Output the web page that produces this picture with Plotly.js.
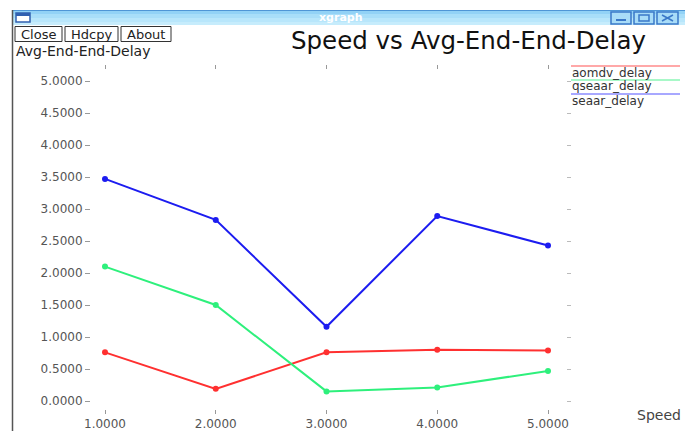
<!DOCTYPE html>
<html>
<head>
<meta charset="utf-8">
<script src="https://cdn.plot.ly/plotly-3.0.1.min.js"></script>
<style>html,body{margin:0;padding:0;background:#fff;}#chart{width:692px;height:431px;}</style>
</head>
<body>
<div id="chart"></div>
<script>
// ---- data ----
var speed = [1, 2, 3, 4, 5];
var aomdvDelay = [0.76, 0.19, 0.76, 0.80, 0.79];
var qseaarDelay = [2.10, 1.50, 0.15, 0.21, 0.47];
var seaarDelay = [3.47, 2.83, 1.16, 2.89, 2.43];
var seriesNames = ['aomdv_delay', 'qseaar_delay', 'seaar_delay'];
var xTickVals = [1, 2, 3, 4, 5];
var yTickVals = [0, 0.5, 1, 1.5, 2, 2.5, 3, 3.5, 4, 4.5, 5];
var buttonLabels = ['Close', 'Hdcpy', 'About'];

// ---- layout geometry (pixels) ----
var W = 692, H = 431;
var L = 91, R = 126, T = 70, B = 22;
var PW = W - L - R, PH = H - T - B;
function px(x) { return (x - L) / PW; }
function py(y) { return (H - B - y) / PH; }

var seriesColors = ['#ff3030', '#2ef07c', '#1c1cf0'];
var legendColors = ['#ffa8a8', '#a8f8c8', '#a8a8ff'];
var FONT = 'DejaVu Sans, Verdana, sans-serif';

var allY = [aomdvDelay, qseaarDelay, seaarDelay];
var traces = allY.map(function (ys, i) {
  return {
    x: speed, y: ys, name: seriesNames[i], type: 'scatter', mode: 'lines+markers',
    line: { color: seriesColors[i], width: 2 },
    marker: { color: seriesColors[i], size: 6 },
    showlegend: false, cliponaxis: false
  };
});
// invisible helper trace so the mirrored tick axes are drawn
traces.push({ x: speed, y: seaarDelay, xaxis: 'x2', yaxis: 'y2', mode: 'markers',
  marker: { opacity: 0 }, showlegend: false, hoverinfo: 'skip' });

var xr = [1 - (105 - L) / 110.75, 5 + (L + PW - 548) / 110.75];
var yr = [-(H - B - 401) / 64, 5 + (81 - T) / 64];

var tickFont = { family: FONT, size: 12, color: '#555555' };
var shapes = [];
var annotations = [];

// window title bar (banded gradient)
var bands = [['#4f96d6', 10, 11], ['#92d2f6', 11, 14], ['#a8def9', 14, 18], ['#b8e6fb', 18, 22], ['#c6ecfc', 22, 25]];
bands.forEach(function (b) {
  shapes.push({ type: 'rect', xref: 'paper', yref: 'paper', x0: px(12), x1: px(685), y0: py(b[1]), y1: py(b[2]),
    fillcolor: b[0], line: { width: 0 }, layer: 'below' });
});
// window left border
shapes.push({ type: 'line', xref: 'paper', yref: 'paper', x0: px(12.5), x1: px(12.5), y0: py(10), y1: py(431),
  line: { color: '#555555', width: 1.5 } });
// window icon at left of title bar
shapes.push({ type: 'rect', xref: 'paper', yref: 'paper', x0: px(16), x1: px(30), y0: py(13), y1: py(22),
  fillcolor: '#ffffff', line: { color: '#3060b0', width: 1.5 } });
shapes.push({ type: 'rect', xref: 'paper', yref: 'paper', x0: px(16), x1: px(30), y0: py(13), y1: py(16),
  fillcolor: '#3060b0', line: { width: 0 } });
// title bar buttons
[[611, 631], [634, 654], [657, 678]].forEach(function (b) {
  shapes.push({ type: 'rect', xref: 'paper', yref: 'paper', x0: px(b[0]), x1: px(b[1]), y0: py(12), y1: py(24),
    fillcolor: '#a8dcf8', line: { color: '#3a78c8', width: 1.5 } });
});
shapes.push({ type: 'line', xref: 'paper', yref: 'paper', x0: px(616), x1: px(626), y0: py(20), y1: py(20), line: { color: '#3a78c8', width: 2 } });
shapes.push({ type: 'rect', xref: 'paper', yref: 'paper', x0: px(639), x1: px(649), y0: py(15), y1: py(21), line: { color: '#3a78c8', width: 1.5 } });
shapes.push({ type: 'line', xref: 'paper', yref: 'paper', x0: px(662), x1: px(673), y0: py(15), y1: py(21), line: { color: '#3a78c8', width: 1.5 } });
shapes.push({ type: 'line', xref: 'paper', yref: 'paper', x0: px(662), x1: px(673), y0: py(21), y1: py(15), line: { color: '#3a78c8', width: 1.5 } });

annotations.push({ xref: 'paper', yref: 'paper', x: px(341), y: py(17.5), text: '<b>xgraph</b>', showarrow: false,
  xanchor: 'center', yanchor: 'middle', font: { family: FONT, size: 11, color: '#ffffff' } });

// Close / Hdcpy / About buttons
var btnPos = [[15, 62], [65, 118], [121, 171]];
buttonLabels.forEach(function (lab, i) {
  var b = btnPos[i];
  shapes.push({ type: 'rect', xref: 'paper', yref: 'paper', x0: px(b[0]), x1: px(b[1]), y0: py(26.5), y1: py(41.5),
    fillcolor: '#ffffff', line: { color: '#333333', width: 1 } });
  annotations.push({ xref: 'paper', yref: 'paper', x: px((b[0] + b[1]) / 2), y: py(34), text: lab, showarrow: false,
    xanchor: 'center', yanchor: 'middle', font: { family: FONT, size: 13, color: '#222222' } });
});

// titles
annotations.push({ xref: 'paper', yref: 'paper', x: px(289), y: py(40), text: 'Speed vs Avg-End-End-Delay', showarrow: false,
  xanchor: 'left', yanchor: 'middle', font: { family: FONT, size: 24.5, color: '#111111' } });
annotations.push({ xref: 'paper', yref: 'paper', x: px(14), y: py(51), text: 'Avg-End-End-Delay', showarrow: false,
  xanchor: 'left', yanchor: 'middle', font: { family: FONT, size: 14, color: '#222222' } });
annotations.push({ xref: 'paper', yref: 'paper', x: px(635), y: py(415), text: 'Speed', showarrow: false,
  xanchor: 'left', yanchor: 'middle', font: { family: FONT, size: 14, color: '#444444' } });

// legend (xgraph style: line above the name)
seriesNames.forEach(function (n, i) {
  var yLine = 66 + i * 14;
  shapes.push({ type: 'line', xref: 'paper', yref: 'paper', x0: px(571), x1: px(680), y0: py(yLine), y1: py(yLine),
    line: { color: legendColors[i], width: 2 } });
  annotations.push({ xref: 'paper', yref: 'paper', x: px(570), y: py(yLine + 6.5), text: n, showarrow: false,
    xanchor: 'left', yanchor: 'middle', font: { family: FONT, size: 12, color: '#333333' } });
});

var layout = {
  width: W, height: H,
  margin: { l: L, r: R, t: T, b: B, pad: 0 },
  paper_bgcolor: '#ffffff', plot_bgcolor: '#ffffff',
  showlegend: false,
  xaxis: { range: xr, tickvals: xTickVals, tickformat: '.4f', ticks: 'outside', ticklen: 4, tickwidth: 1,
    tickcolor: '#999999', showgrid: false, zeroline: false, showline: false, tickfont: tickFont, fixedrange: true },
  xaxis2: { range: xr, overlaying: 'x', side: 'top', anchor: 'y', tickvals: xTickVals, ticks: 'outside', ticklen: 4,
    tickwidth: 1, tickcolor: '#999999', showticklabels: false, showgrid: false, zeroline: false, showline: false },
  yaxis: { range: yr, tickvals: yTickVals, tickformat: '.4f', ticks: 'outside', ticklen: 5, tickwidth: 1,
    tickcolor: '#999999', showgrid: false, zeroline: false, showline: false, tickfont: tickFont, fixedrange: true },
  yaxis2: { range: yr, overlaying: 'y', side: 'right', anchor: 'x', tickvals: yTickVals, ticks: 'outside', ticklen: 4,
    tickwidth: 1, tickcolor: '#bbbbbb', showticklabels: false, showgrid: false, zeroline: false, showline: false },
  shapes: shapes,
  annotations: annotations
};

Plotly.newPlot('chart', traces, layout, { staticPlot: true, displayModeBar: false });
</script>
</body>
</html>
